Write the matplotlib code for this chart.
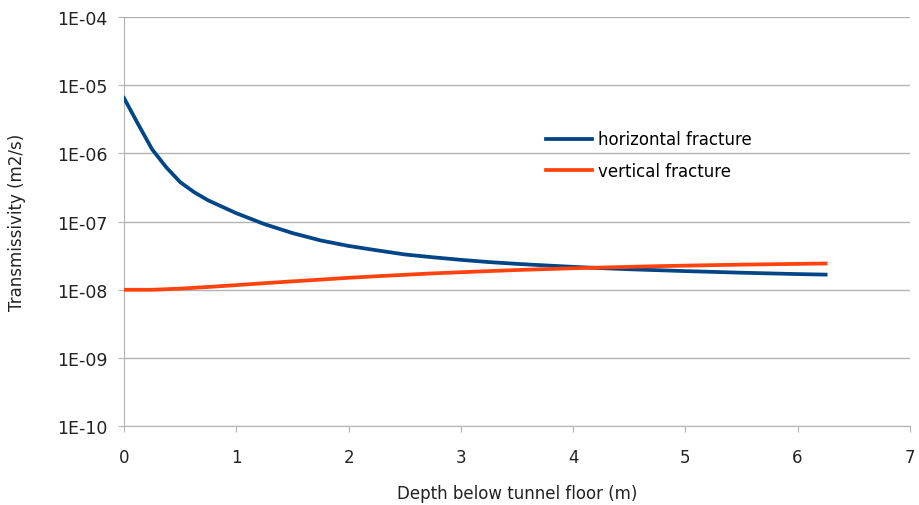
import numpy as np
import matplotlib.pyplot as plt

plt.rcParams['font.family'] = ['DejaVu Sans']

# depth below tunnel floor (m)
depth = [0, 0.125, 0.25, 0.375, 0.5, 0.625, 0.75, 1.0, 1.25, 1.5, 1.75, 2.0, 2.25,
         2.5, 2.75, 3.0, 3.25, 3.5, 3.75, 4.0, 4.25, 4.5, 4.75, 5.0, 5.25, 5.5,
         5.75, 6.0, 6.25]

# transmissivity (m2/s)
horizontal = [6.5e-6, 2.7e-6, 1.15e-6, 6.3e-7, 3.8e-7, 2.7e-7, 2.05e-7, 1.33e-7,
              9.2e-8, 6.8e-8, 5.3e-8, 4.4e-8, 3.8e-8, 3.3e-8, 3.0e-8, 2.75e-8,
              2.55e-8, 2.4e-8, 2.28e-8, 2.17e-8, 2.08e-8, 2.0e-8, 1.94e-8,
              1.88e-8, 1.83e-8, 1.78e-8, 1.74e-8, 1.7e-8, 1.67e-8]
vertical = [1.0e-8, 1.0e-8, 1.0e-8, 1.02e-8, 1.04e-8, 1.07e-8, 1.1e-8, 1.17e-8,
            1.25e-8, 1.33e-8, 1.41e-8, 1.5e-8, 1.58e-8, 1.66e-8, 1.74e-8, 1.81e-8,
            1.88e-8, 1.95e-8, 2.01e-8, 2.07e-8, 2.12e-8, 2.17e-8, 2.22e-8,
            2.26e-8, 2.3e-8, 2.34e-8, 2.37e-8, 2.4e-8, 2.43e-8]

y_ticks = [1e-10, 1e-9, 1e-8, 1e-7, 1e-6, 1e-5, 1e-4]
y_labels = ["1E-10", "1E-09", "1E-08", "1E-07", "1E-06", "1E-05", "1E-04"]

fig = plt.figure(figsize=(9.19, 5.06), dpi=100)
ax = fig.add_axes([0.135, 0.156, 0.855, 0.808])

ax.plot(depth, horizontal, color="#004586", lw=2.7, label="horizontal fracture",
        zorder=3, solid_joinstyle="round")
ax.plot(depth, vertical, color="#ff420e", lw=2.7, label="vertical fracture",
        zorder=3, solid_joinstyle="round")

ax.set_yscale("log")
ax.set_ylim(1e-10, 1e-4)
ax.set_xlim(0, 7)
ax.set_yticks(y_ticks)
ax.set_yticklabels(y_labels)
ax.minorticks_off()
ax.set_xticks(range(8))

ax.grid(axis="y", color="#b3b3b3", lw=1)
ax.set_axisbelow(True)
for s in ["top", "right"]:
    ax.spines[s].set_visible(False)
for s in ["left", "bottom"]:
    ax.spines[s].set_color("#b3b3b3")
ax.tick_params(colors="#b3b3b3", labelcolor="#222222", labelsize=12, length=4)
ax.tick_params(axis="y", pad=8, labelsize=12.5)
ax.tick_params(axis="x", pad=12)

ax.set_xlabel("Depth below tunnel floor (m)", fontsize=12, color="#222222", labelpad=13)
ax.set_ylabel("Transmissivity (m2/s)", fontsize=12, color="#222222", labelpad=22)

ax.legend(loc="upper left", bbox_to_anchor=(0.537, 0.723), frameon=False,
          borderaxespad=0, borderpad=0, fontsize=12, handlelength=2.75,
          handletextpad=0.35, labelspacing=0.8)

fig.savefig("out.png", dpi=100)
